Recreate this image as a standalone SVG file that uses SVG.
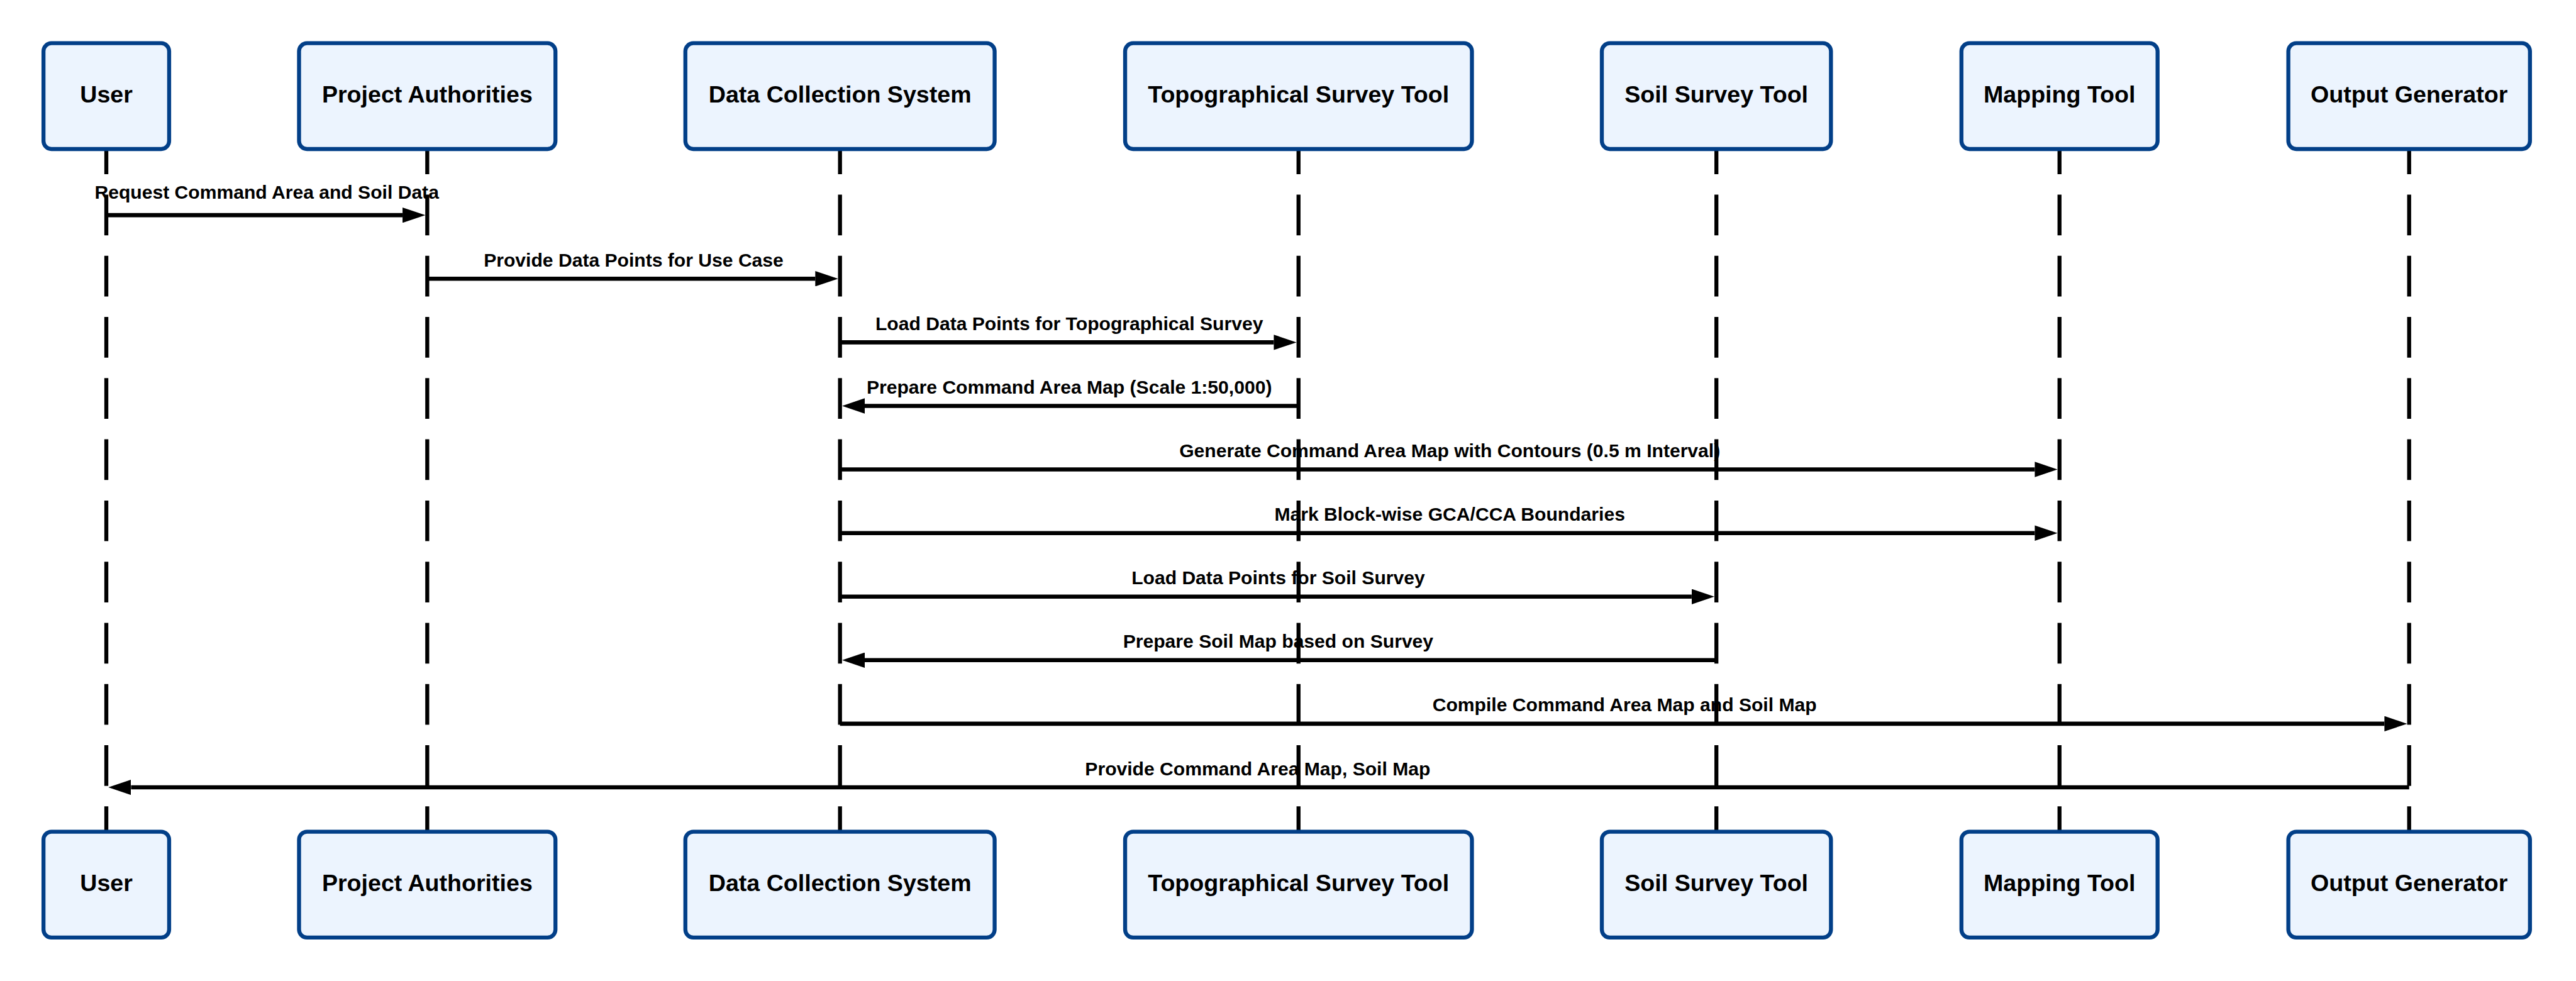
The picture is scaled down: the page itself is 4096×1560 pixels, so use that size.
<svg xmlns="http://www.w3.org/2000/svg" width="4096" height="1560" viewBox="0 0 4096 1560">
<style>
.life{stroke:#000;stroke-width:7;stroke-dasharray:71.6 36;fill:none}
.box{fill:#ECF4FE;stroke:#023F88;stroke-width:7}
.nt{font-family:"Liberation Sans",Arial,sans-serif;font-weight:bold;font-size:41.6px;fill:#000;text-anchor:middle}
.msg{stroke:#000;stroke-width:7.3;fill:none;marker-end:url(#ah)}
.ml{font-family:"Liberation Sans",Arial,sans-serif;font-weight:bold;font-size:33.3px;fill:#000;text-anchor:middle}
</style>
<defs>
<marker id="ah" markerUnits="userSpaceOnUse" markerWidth="40" markerHeight="27" viewBox="0 0 40 27" refX="0" refY="13.5" orient="auto">
<polygon points="0,0 40,13.5 0,27" fill="#000"/>
</marker>
</defs>
<rect width="4096" height="1560" fill="#fff"/>
<g transform="scale(0.904)">
<g id="lifelines">
<line class="life" x1="187" y1="234.8" x2="187" y2="1560"/>
<line class="life" x1="751.5" y1="234.8" x2="751.5" y2="1560"/>
<line class="life" x1="1477.5" y1="234.8" x2="1477.5" y2="1560"/>
<line class="life" x1="2284" y1="234.8" x2="2284" y2="1560"/>
<line class="life" x1="3019" y1="234.8" x2="3019" y2="1560"/>
<line class="life" x1="3622.5" y1="234.8" x2="3622.5" y2="1560"/>
<line class="life" x1="4237.5" y1="234.8" x2="4237.5" y2="1560"/>
</g>
<g id="user">
<rect class="box" x="76.5" y="76" width="221" height="186.2" rx="14"/>
<text class="nt" x="187" y="180">User</text>
<rect class="box" x="76.5" y="1463" width="221" height="186.2" rx="14"/>
<text class="nt" x="187" y="1567.5">User</text>
</g>
<g id="project-authorities">
<rect class="box" x="526" y="76" width="451" height="186.2" rx="14"/>
<text class="nt" x="751.5" y="180">Project Authorities</text>
<rect class="box" x="526" y="1463" width="451" height="186.2" rx="14"/>
<text class="nt" x="751.5" y="1567.5">Project Authorities</text>
</g>
<g id="data-collection-system">
<rect class="box" x="1205.5" y="76" width="544" height="186.2" rx="14"/>
<text class="nt" x="1477.5" y="180">Data Collection System</text>
<rect class="box" x="1205.5" y="1463" width="544" height="186.2" rx="14"/>
<text class="nt" x="1477.5" y="1567.5">Data Collection System</text>
</g>
<g id="topographical-survey-tool">
<rect class="box" x="1979" y="76" width="610" height="186.2" rx="14"/>
<text class="nt" x="2284" y="180">Topographical Survey Tool</text>
<rect class="box" x="1979" y="1463" width="610" height="186.2" rx="14"/>
<text class="nt" x="2284" y="1567.5">Topographical Survey Tool</text>
</g>
<g id="soil-survey-tool">
<rect class="box" x="2817.5" y="76" width="403" height="186.2" rx="14"/>
<text class="nt" x="3019" y="180">Soil Survey Tool</text>
<rect class="box" x="2817.5" y="1463" width="403" height="186.2" rx="14"/>
<text class="nt" x="3019" y="1567.5">Soil Survey Tool</text>
</g>
<g id="mapping-tool">
<rect class="box" x="3450" y="76" width="345" height="186.2" rx="14"/>
<text class="nt" x="3622.5" y="180">Mapping Tool</text>
<rect class="box" x="3450" y="1463" width="345" height="186.2" rx="14"/>
<text class="nt" x="3622.5" y="1567.5">Mapping Tool</text>
</g>
<g id="output-generator">
<rect class="box" x="4025" y="76" width="425" height="186.2" rx="14"/>
<text class="nt" x="4237.5" y="180">Output Generator</text>
<rect class="box" x="4025" y="1463" width="425" height="186.2" rx="14"/>
<text class="nt" x="4237.5" y="1567.5">Output Generator</text>
</g>
<g id="messages">
<line class="msg" x1="187" y1="378.5" x2="708" y2="378.5"/>
<line class="msg" x1="751.5" y1="490.3" x2="1434" y2="490.3"/>
<line class="msg" x1="1477.5" y1="602.2" x2="2240.5" y2="602.2"/>
<line class="msg" x1="2284" y1="714" x2="1521" y2="714"/>
<line class="msg" x1="1477.5" y1="825.8" x2="3579" y2="825.8"/>
<line class="msg" x1="1477.5" y1="937.7" x2="3579" y2="937.7"/>
<line class="msg" x1="1477.5" y1="1049.5" x2="2975.5" y2="1049.5"/>
<line class="msg" x1="3019" y1="1161.3" x2="1521" y2="1161.3"/>
<line class="msg" x1="1477.5" y1="1273.1" x2="4194" y2="1273.1"/>
<line class="msg" x1="4237.5" y1="1385" x2="230.5" y2="1385"/>
<text class="ml" x="469.25" y="349.5">Request Command Area and Soil Data</text>
<text class="ml" x="1114.5" y="468.8">Provide Data Points for Use Case</text>
<text class="ml" x="1880.75" y="580.7">Load Data Points for Topographical Survey</text>
<text class="ml" x="1880.75" y="692.5">Prepare Command Area Map (Scale 1:50,000)</text>
<text class="ml" x="2550" y="804.3">Generate Command Area Map with Contours (0.5 m Interval)</text>
<text class="ml" x="2550" y="916.2">Mark Block-wise GCA/CCA Boundaries</text>
<text class="ml" x="2248.25" y="1028">Load Data Points for Soil Survey</text>
<text class="ml" x="2248.25" y="1139.8">Prepare Soil Map based on Survey</text>
<text class="ml" x="2857.5" y="1251.6">Compile Command Area Map and Soil Map</text>
<text class="ml" x="2212.25" y="1363.5">Provide Command Area Map, Soil Map</text>
</g>
</g>
</svg>
